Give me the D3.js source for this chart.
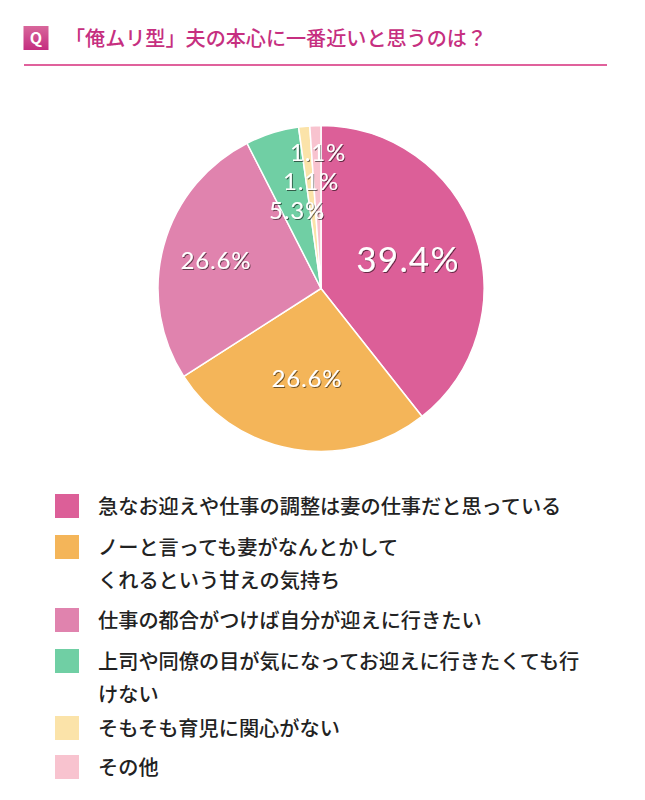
<!DOCTYPE html>
<html lang="ja">
<head>
<meta charset="UTF-8" />
<title>俺ムリ型</title>
<script src="https://d3js.org/d3.v7.min.js"></script>
<style>
  body { margin: 0; background: #fff; overflow: hidden; }
  svg { position: absolute; top: 0; left: 0; }
  text { font-family: "Noto Sans CJK JP", sans-serif; }
  .pct { font-family: Lato, "Open Sans", sans-serif; fill: #fff; text-anchor: middle; letter-spacing: 0.035em; filter: url(#shadow); }
  .leg { font-size: 20.2px; font-weight: 500; fill: #222; }
</style>
</head>
<body>
<svg id="chart" width="645" height="800">
  <defs>
    <filter id="shadow" x="-20%" y="-20%" width="140%" height="140%">
      <feDropShadow dx="1" dy="1" stdDeviation="0.7" flood-color="#000" flood-opacity="0.55"/>
    </filter>
    <linearGradient id="qbox" x1="0" y1="0" x2="0" y2="1">
      <stop offset="0" stop-color="#d8679b"/>
      <stop offset="1" stop-color="#c42d80"/>
    </linearGradient>
  </defs>
</svg>
<script>
const title = "「俺ムリ型」夫の本心に一番近いと思うのは？";
const values = [39.4, 26.6, 26.6, 5.3, 1.1, 1.1];
const pctLabels = ["39.4%", "26.6%", "26.6%", "5.3%", "1.1%", "1.1%"];
const colors = ["#dc5f98", "#f4b559", "#e083ae", "#70cfa4", "#fbe3a9", "#f8c3cf"];
const legendLines = [
  ["急なお迎えや仕事の調整は妻の仕事だと思っている"],
  ["ノーと言っても妻がなんとかして", "くれるという甘えの気持ち"],
  ["仕事の都合がつけば自分が迎えに行きたい"],
  ["上司や同僚の目が気になってお迎えに行きたくても行", "けない"],
  ["そもそも育児に関心がない"],
  ["その他"]
];
const legendY = [506, 547, 620, 661, 728, 767];   // swatch centres
const labelPos = [[408, 259, 35], [307, 378, 24], [216, 260, 24], [297, 210, 24], [311, 181, 24], [318, 152, 24]];

const svg = d3.select("#chart");

// header
svg.append("rect").attr("x", 23.5).attr("y", 26).attr("width", 25).attr("height", 24).attr("fill", "url(#qbox)");
svg.append("text").attr("x", 36).attr("y", 44).attr("text-anchor", "middle")
  .attr("font-size", 16).attr("font-weight", 700).attr("fill", "#fff").text("Q");
svg.append("text").attr("x", 65).attr("y", 45.5).attr("font-size", 20.1).attr("font-weight", 500)
  .attr("fill", "#c62f80").text(title);
svg.append("line").attr("x1", 24).attr("x2", 607).attr("y1", 65).attr("y2", 65)
  .attr("stroke", "#e0619c").attr("stroke-width", 2);

// pie
const cx = 321, cy = 288.5, r = 163;
const pie = d3.pie().sort(null).value(d => d);
const arc = d3.arc().innerRadius(0).outerRadius(r);
const g = svg.append("g").attr("transform", `translate(${cx},${cy})`);
g.selectAll("path")
  .data(pie(values))
  .enter()
  .append("path")
  .attr("d", arc)
  .attr("fill", (d, i) => colors[i])
  .attr("stroke", "#fff")
  .attr("stroke-width", 1.5);

// percent labels
svg.selectAll(".pct")
  .data(pctLabels)
  .enter()
  .append("text")
  .attr("class", "pct")
  .attr("x", (d, i) => labelPos[i][0])
  .attr("y", (d, i) => labelPos[i][1] + labelPos[i][2] * 0.36)
  .attr("font-size", (d, i) => labelPos[i][2])
  .text(d => d);

// legend
legendLines.forEach((lines, i) => {
  const row = svg.append("g");
  row.append("rect").attr("x", 55).attr("y", legendY[i] - 12).attr("width", 24).attr("height", 24)
    .attr("fill", colors[i]);
  lines.forEach((t, j) => {
    row.append("text").attr("class", "leg").attr("x", 98).attr("y", legendY[i] + 7.5 + j * 33).text(t);
  });
});
</script>
</body>
</html>
